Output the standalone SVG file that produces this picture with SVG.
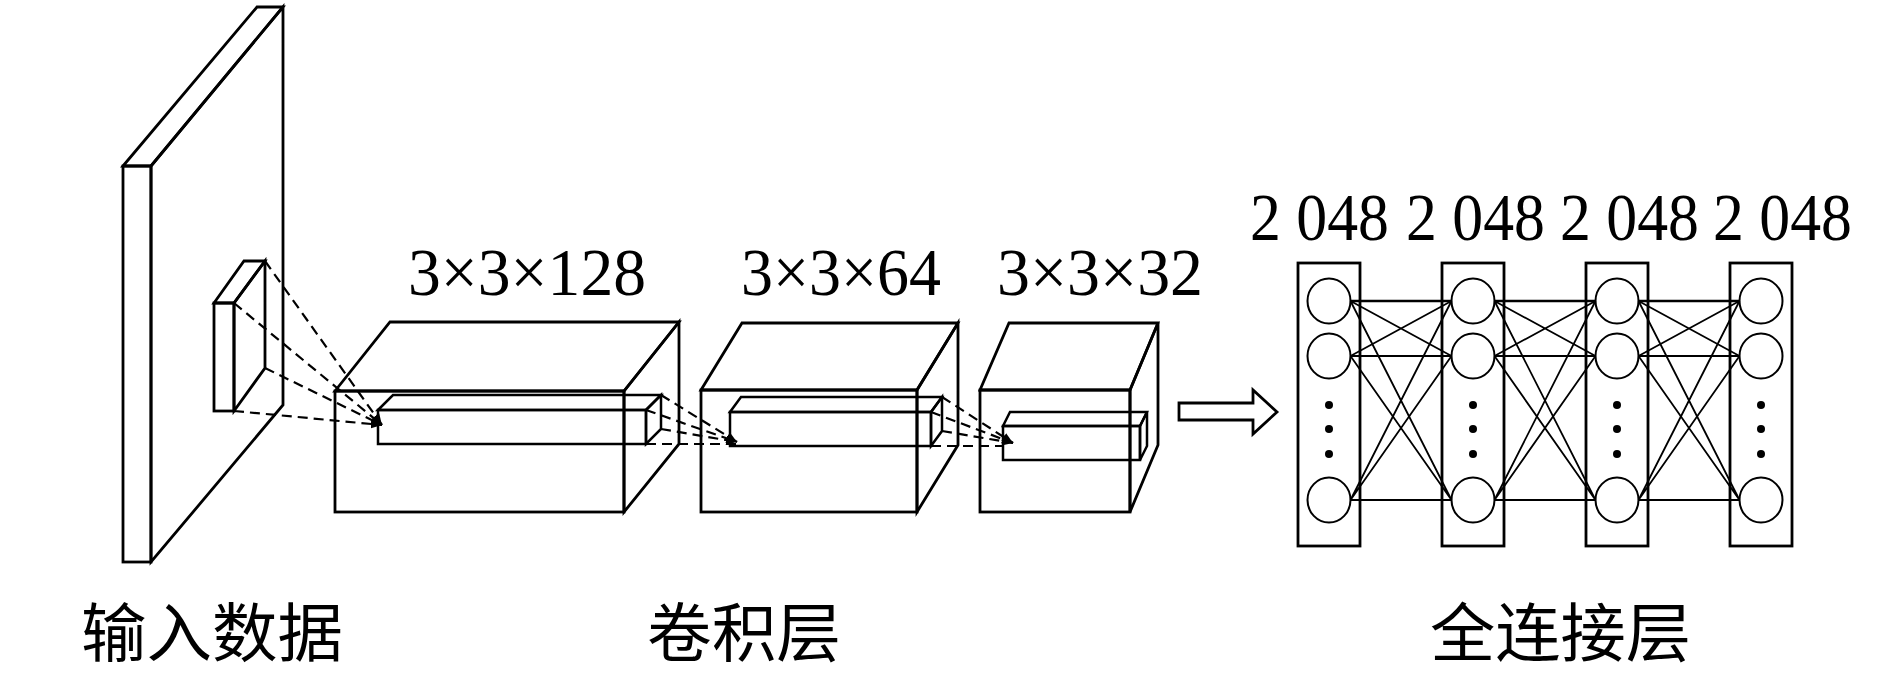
<svg xmlns="http://www.w3.org/2000/svg" width="1890" height="675" viewBox="0 0 1890 675">
<style>
.edge{fill:none;stroke:#000;stroke-width:2.8;stroke-linejoin:miter}
.bar{fill:none;stroke:#000;stroke-width:2.5}
.dash{fill:none;stroke:#000;stroke-width:2.2;stroke-dasharray:10 6}
.fcl{fill:none;stroke:#000;stroke-width:1.8}
.fch{fill:none;stroke:#000;stroke-width:2.6}
.node{fill:#fff;stroke:#000;stroke-width:2}
.col{fill:#fff;stroke:#000;stroke-width:2.8}
.dot{fill:#000}
.num{font-family:"Liberation Serif","Times New Roman",serif;font-size:68px;fill:#000}
.cjk{font-family:"Liberation Serif","Noto Sans CJK SC",sans-serif;font-size:64px;fill:#000}
</style>
<defs>
<marker id="ah" viewBox="0 0 10 10" refX="10" refY="5" markerWidth="5" markerHeight="5" orient="auto" markerUnits="strokeWidth">
<path d="M0,1 L10,5 L0,9 z" fill="#000"/>
</marker>
</defs>
<rect width="1890" height="675" fill="#fff"/>

<g id="input-plate">
<polygon class="edge" points="151,166 283,7 283,405 151,562"/>
<polygon class="edge" points="123,166 257,7 283,7 151,166"/>
<rect class="edge" x="123" y="166" width="28" height="396"/>
<polygon class="edge" points="234,303 265,261 265,368 234,411"/>
<polygon class="edge" points="214,303 244,261 265,261 234,303"/>
<rect class="edge" x="214" y="303" width="20" height="108"/>
</g>

<g id="conv1">
<rect class="edge" x="335" y="391" width="289" height="121"/>
<polygon class="edge" points="335,391 390,322 679,322 624,391"/>
<polygon class="edge" points="624,391 679,322 679,444 624,512"/>
<rect class="bar" x="378" y="410" width="268" height="34"/>
<polygon class="bar" points="378,410 393,395 661,395 646,410"/>
<polygon class="bar" points="646,410 661,395 661,429 646,444"/>
</g>

<g id="conv2">
<rect class="edge" x="701" y="390" width="216" height="122"/>
<polygon class="edge" points="701,390 742,323 958,323 917,390"/>
<polygon class="edge" points="917,390 958,323 958,445 917,512"/>
<rect class="bar" x="730" y="412" width="201" height="34"/>
<polygon class="bar" points="730,412 741,397 942,397 931,412"/>
<polygon class="bar" points="931,412 942,397 942,431 931,446"/>
</g>

<g id="conv3">
<rect class="edge" x="980" y="390" width="150" height="122"/>
<polygon class="edge" points="980,390 1009,323 1158,323 1130,390"/>
<polygon class="edge" points="1130,390 1158,323 1158,445 1130,512"/>
<rect class="bar" x="1003" y="426" width="137" height="34"/>
<polygon class="bar" points="1003,426 1010,412 1147,412 1140,426"/>
<polygon class="bar" points="1140,426 1147,412 1147,446 1140,460"/>
</g>

<g id="flow-arrow">
<polygon class="edge" points="1179,403 1253,403 1253,390 1277,412 1253,434 1253,420 1179,420"/>
</g>

<g id="fc1">
<rect class="col" x="1298" y="263" width="62" height="283"/>
<ellipse class="node" cx="1329" cy="301" rx="21.5" ry="22.5"/>
<ellipse class="node" cx="1329" cy="356" rx="21.5" ry="22.5"/>
<ellipse class="node" cx="1329" cy="500" rx="21.5" ry="22.5"/>
<circle class="dot" cx="1329" cy="405" r="4"/><circle class="dot" cx="1329" cy="429" r="4"/><circle class="dot" cx="1329" cy="454" r="4"/>
</g>
<g id="fc2">
<rect class="col" x="1442" y="263" width="62" height="283"/>
<ellipse class="node" cx="1473" cy="301" rx="21.5" ry="22.5"/>
<ellipse class="node" cx="1473" cy="356" rx="21.5" ry="22.5"/>
<ellipse class="node" cx="1473" cy="500" rx="21.5" ry="22.5"/>
<circle class="dot" cx="1473" cy="405" r="4"/><circle class="dot" cx="1473" cy="429" r="4"/><circle class="dot" cx="1473" cy="454" r="4"/>
</g>
<g id="fc3">
<rect class="col" x="1586" y="263" width="62" height="283"/>
<ellipse class="node" cx="1617" cy="301" rx="21.5" ry="22.5"/>
<ellipse class="node" cx="1617" cy="356" rx="21.5" ry="22.5"/>
<ellipse class="node" cx="1617" cy="500" rx="21.5" ry="22.5"/>
<circle class="dot" cx="1617" cy="405" r="4"/><circle class="dot" cx="1617" cy="429" r="4"/><circle class="dot" cx="1617" cy="454" r="4"/>
</g>
<g id="fc4">
<rect class="col" x="1730" y="263" width="62" height="283"/>
<ellipse class="node" cx="1761" cy="301" rx="21.5" ry="22.5"/>
<ellipse class="node" cx="1761" cy="356" rx="21.5" ry="22.5"/>
<ellipse class="node" cx="1761" cy="500" rx="21.5" ry="22.5"/>
<circle class="dot" cx="1761" cy="405" r="4"/><circle class="dot" cx="1761" cy="429" r="4"/><circle class="dot" cx="1761" cy="454" r="4"/>
</g>

<g id="connectors">
<g id="dashes">
<path class="dash" marker-end="url(#ah)" d="M265,261 L382,425"/>
<path class="dash" marker-end="url(#ah)" d="M234,303 L382,425"/>
<path class="dash" marker-end="url(#ah)" d="M265,368 L382,425"/>
<path class="dash" marker-end="url(#ah)" d="M234,411 L382,425"/>
<path class="dash" marker-end="url(#ah)" d="M661,395 L737,442"/>
<path class="dash" marker-end="url(#ah)" d="M646,410 L737,442"/>
<path class="dash" marker-end="url(#ah)" d="M661,429 L737,442"/>
<path class="dash" d="M646,444 L737,444"/>
<path class="dash" marker-end="url(#ah)" d="M942,397 L1013,443"/>
<path class="dash" marker-end="url(#ah)" d="M931,412 L1013,443"/>
<path class="dash" marker-end="url(#ah)" d="M942,431 L1013,443"/>
<path class="dash" d="M931,446 L1003,446"/>
</g>
<g id="fc-links">
<path class="fch" d="M1350.5,301 L1451.5,301 M1494.5,301 L1595.5,301 M1638.5,301 L1739.5,301"/>
<path class="fcl" d="M1350.5,301 L1451.5,356 M1350.5,301 L1451.5,500 M1350.5,356 L1451.5,301 M1350.5,356 L1451.5,356 M1350.5,356 L1451.5,500 M1350.5,500 L1451.5,301 M1350.5,500 L1451.5,356 M1350.5,500 L1451.5,500"/>
<path class="fcl" d="M1494.5,301 L1595.5,356 M1494.5,301 L1595.5,500 M1494.5,356 L1595.5,301 M1494.5,356 L1595.5,356 M1494.5,356 L1595.5,500 M1494.5,500 L1595.5,301 M1494.5,500 L1595.5,356 M1494.5,500 L1595.5,500"/>
<path class="fcl" d="M1638.5,301 L1739.5,356 M1638.5,301 L1739.5,500 M1638.5,356 L1739.5,301 M1638.5,356 L1739.5,356 M1638.5,356 L1739.5,500 M1638.5,500 L1739.5,301 M1638.5,500 L1739.5,356 M1638.5,500 L1739.5,500"/>
</g>
</g>

<g id="labels">
<text class="num" x="408" y="295" textLength="238" lengthAdjust="spacingAndGlyphs">3×3×128</text>
<text class="num" x="741" y="295" textLength="200" lengthAdjust="spacingAndGlyphs">3×3×64</text>
<text class="num" x="997" y="295" textLength="206" lengthAdjust="spacingAndGlyphs">3×3×32</text>
<text class="num" x="1250" y="240" textLength="139" lengthAdjust="spacingAndGlyphs">2 048</text>
<text class="num" x="1406" y="240" textLength="139" lengthAdjust="spacingAndGlyphs">2 048</text>
<text class="num" x="1560" y="240" textLength="139" lengthAdjust="spacingAndGlyphs">2 048</text>
<text class="num" x="1713" y="240" textLength="139" lengthAdjust="spacingAndGlyphs">2 048</text>
<text class="cjk" x="81" y="656" textLength="262" lengthAdjust="spacingAndGlyphs">输入数据</text>
<text class="cjk" x="647" y="656" textLength="194" lengthAdjust="spacingAndGlyphs">卷积层</text>
<text class="cjk" x="1430" y="656" textLength="261" lengthAdjust="spacingAndGlyphs">全连接层</text>
</g>
</svg>
